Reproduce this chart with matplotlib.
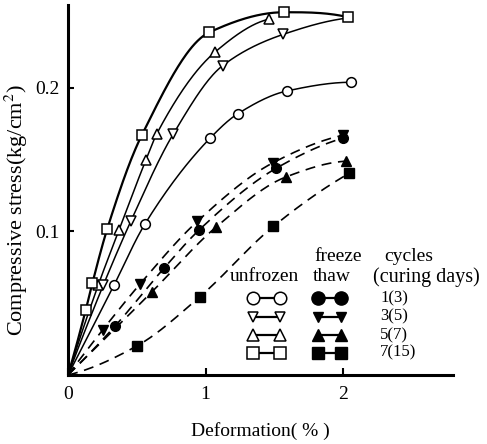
import numpy as np
import matplotlib
matplotlib.use("Agg")
import matplotlib.pyplot as plt

plt.rcParams['font.family'] = ['Liberation Serif', 'DejaVu Serif']
plt.rcParams['mathtext.fontset'] = 'stix'

# ---- data (deformation %, compressive stress kg/cm2) ----
cycles = ["1(3)", "3(5)", "5(7)", "7(15)"]

unf_c1_x = [0.335, 0.558, 1.033, 1.234, 1.595, 2.060]
unf_c1_y = [0.0627, 0.105, 0.165, 0.182, 0.198, 0.204]
unf_c3_x = [0.257, 0.456, 0.766, 1.125, 1.566, 2.036]
unf_c3_y = [0.0627, 0.107, 0.168, 0.2156, 0.2374, 0.2488]
unf_c5_x = [0.220, 0.371, 0.567, 0.645, 1.069, 1.462]
unf_c5_y = [0.0627, 0.101, 0.150, 0.168, 0.225, 0.248]
unf_c7_x = [0.129, 0.177, 0.286, 0.536, 1.028, 1.573, 2.039]
unf_c7_y = [0.0453, 0.0639, 0.102, 0.167, 0.2388, 0.2528, 0.2493]

ft_c1_x = [0.342, 0.698, 0.953, 1.513, 1.998]
ft_c1_y = [0.0341, 0.0744, 0.101, 0.144, 0.165]
ft_c3_x = [0.252, 0.524, 0.940, 1.493, 1.998]
ft_c3_y = [0.0314, 0.0634, 0.107, 0.148, 0.167]
ft_c5_x = [0.611, 1.076, 1.585, 2.022]
ft_c5_y = [0.058, 0.103, 0.138, 0.149]
ft_c7_x = [0.500, 0.960, 1.493, 2.046]
ft_c7_y = [0.0202, 0.0546, 0.1035, 0.1406]

xticks = [0, 1, 2]
xticklabels = ["0", "1", "2"]
yticks = [0.1, 0.2]
yticklabels = ["0.1", "0.2"]


def pchip(x, y, n=200):
    x = np.asarray(x, float); y = np.asarray(y, float)
    h = np.diff(x); d = np.diff(y) / h
    m = np.zeros_like(y)
    for k in range(1, len(x) - 1):
        if d[k - 1] * d[k] <= 0:
            m[k] = 0
        else:
            w1 = 2 * h[k] + h[k - 1]; w2 = h[k] + 2 * h[k - 1]
            m[k] = (w1 + w2) / (w1 / d[k - 1] + w2 / d[k])
    m[0] = ((2 * h[0] + h[1]) * d[0] - h[0] * d[1]) / (h[0] + h[1])
    if np.sign(m[0]) != np.sign(d[0]):
        m[0] = 0
    m[-1] = ((2 * h[-1] + h[-2]) * d[-1] - h[-1] * d[-2]) / (h[-1] + h[-2])
    if np.sign(m[-1]) != np.sign(d[-1]):
        m[-1] = 0
    xs = np.linspace(x[0], x[-1], n)
    idx = np.clip(np.searchsorted(x, xs) - 1, 0, len(h) - 1)
    t = (xs - x[idx]) / h[idx]
    h00 = 2 * t**3 - 3 * t**2 + 1; h10 = t**3 - 2 * t**2 + t
    h01 = -2 * t**3 + 3 * t**2; h11 = t**3 - t**2
    ys = h00 * y[idx] + h10 * h[idx] * m[idx] + h01 * y[idx + 1] + h11 * h[idx] * m[idx + 1]
    return xs, ys


fig = plt.figure(figsize=(4.87, 4.44), dpi=100)
ax = fig.add_axes([68 / 487, 1 - 375 / 444, (453 - 68) / 487, (375 - 5) / 444])
ax.set_xlim(0, (453 - 68) / 137.5)
ax.set_ylim(0, 370 / 1435)

markers = ['o', 'v', '^', 's']
unf = [(unf_c1_x, unf_c1_y), (unf_c3_x, unf_c3_y), (unf_c5_x, unf_c5_y), (unf_c7_x, unf_c7_y)]
ft = [(ft_c1_x, ft_c1_y), (ft_c3_x, ft_c3_y), (ft_c5_x, ft_c5_y), (ft_c7_x, ft_c7_y)]
msz = [7, 7, 7, 6.5]

for (xs, ys), mk, ms in zip(ft, markers, msz):
    cx, cy = pchip([0] + list(xs), [0] + list(ys))
    ax.plot(cx, cy, color='black', lw=1.2, dashes=(6, 4), zorder=2)
    ax.plot(xs, ys, ls='none', marker=mk, ms=ms, color='black', zorder=3)

for (xs, ys), mk, ms in zip(unf, markers, msz):
    cx, cy = pchip([0] + list(xs), [0] + list(ys))
    ax.plot(cx, cy, color='black', lw=1.6 if mk == 's' else 1.1, zorder=2)
    mxs, mys = (xs[:-1], ys[:-1]) if mk == 'v' else (xs, ys)
    ax.plot(mxs, mys, ls='none', marker=mk, ms=ms, mfc='white', mec='black', mew=1.1,
            zorder=4 if mk == 's' else 3)

for s in ['top', 'right']:
    ax.spines[s].set_visible(False)
for s in ['left', 'bottom']:
    ax.spines[s].set_linewidth(2.2)

ax.set_xticks(xticks)
ax.set_xticklabels(xticklabels, fontsize=14)
ax.set_yticks(yticks)
ax.set_yticklabels(yticklabels, fontsize=14)
ax.tick_params(axis='x', direction='in', length=5, width=1.5, pad=8)
ax.tick_params(axis='y', direction='in', length=4, width=1.5, pad=6)
ax.set_xlabel('Deformation( % )', fontsize=14, labelpad=14)
ax.set_ylabel('Compressive stress(kg/cm$^2$)', fontsize=16)
ax.yaxis.set_label_coords(-38 / 385, (375 - 210) / 370)

# ---- legend ----
def dx(px):
    return (px - 68) / 137.5

def dy(py):
    return (375 - py) / 1435

row_y = [298.3, 316.7, 335, 352.7]
lsz = [9, 7, 8, 8.5]
for lab, mk, ry, ms in zip(cycles, markers, row_y, lsz):
    ax.plot([dx(253.3), dx(280)], [dy(ry), dy(ry)], color='black', lw=1.6, marker=mk,
            ms=ms, mfc='white', mec='black', mew=1.1, clip_on=False)
    ax.plot([dx(317.7), dx(341)], [dy(ry), dy(ry)], color='black', lw=1.6, marker=mk,
            ms=ms + 0.5, clip_on=False)
    ax.text(dx(380), dy(ry), lab, fontsize=12, va='center', ha='left')

ax.text(dx(264.5), dy(276.7), 'unfrozen', fontsize=14, ha='center', va='center')
ax.text(dx(338), dy(256.7), 'freeze', fontsize=14, ha='center', va='center')
ax.text(dx(332), dy(276.7), 'thaw', fontsize=14, ha='center', va='center')
ax.text(dx(409), dy(256.7), 'cycles', fontsize=14, ha='center', va='center')
ax.text(dx(373), dy(276.7), '(curing days)', fontsize=14.5, ha='left', va='center', clip_on=False)

fig.savefig('out.png', dpi=100)
